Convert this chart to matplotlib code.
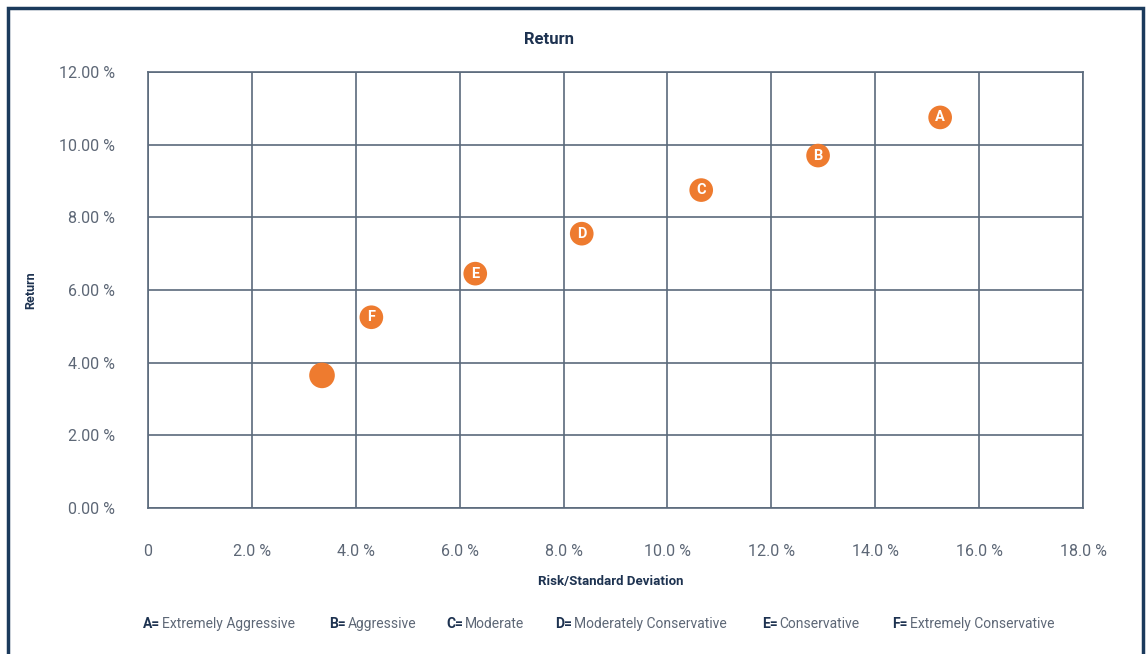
import matplotlib
matplotlib.use("Agg")
import matplotlib.pyplot as plt
from matplotlib.patches import Rectangle

# data
labels = ["A", "B", "C", "D", "E", "F", ""]
risk = [15.25, 12.9, 10.65, 8.35, 6.3, 4.3, 3.35]
ret = [10.75, 9.7, 8.75, 7.55, 6.45, 5.25, 3.65]

x_ticks = [0, 2, 4, 6, 8, 10, 12, 14, 16, 18]
x_ticklabels = ["0", "2.0 %", "4.0 %", "6.0 %", "8.0 %", "10.0 %", "12.0 %", "14.0 %", "16.0 %", "18.0 %"]
y_ticks = [0, 2, 4, 6, 8, 10, 12]
y_ticklabels = ["0.00 %", "2.00 %", "4.00 %", "6.00 %", "8.00 %", "10.00 %", "12.00 %"]

legend_keys = ["A=", "B=", "C=", "D=", "E=", "F="]
legend_names = ["Extremely Aggressive", "Aggressive", "Moderate",
                "Moderately Conservative", "Conservative", "Extremely Conservative"]

plt.rcParams["font.family"] = ["Roboto", "DejaVu Sans"]

NAVY = "#1d3250"
GRAY = "#5d6776"
GRID = "#5b6a7c"
ORANGE = "#ee7b2f"

W, H = 1147, 654
fig = plt.figure(figsize=(W / 100, H / 100), dpi=100)
ax = fig.add_axes([148 / W, 1 - 508 / H, (1083 - 148) / W, (508 - 72) / H])

ax.set_xlim(0, 18)
ax.set_ylim(0, 12)
ax.set_xticks(x_ticks)
ax.set_xticklabels(x_ticklabels)
ax.set_yticks(y_ticks)
ax.set_yticklabels(y_ticklabels)
ax.tick_params(axis="both", length=0, labelsize=11.5, colors=GRAY)
ax.tick_params(axis="x", pad=26)
ax.tick_params(axis="y", pad=24)
ax.grid(True, color=GRID, linewidth=1.2)
for sp in ax.spines.values():
    sp.set_color(GRID)
    sp.set_linewidth(1.2)
ax.set_axisbelow(True)

# points
for lab, x, y in zip(labels, risk, ret):
    if lab:
        ax.scatter(x, y, s=290, color=ORANGE, edgecolor="none", zorder=3)
        ax.text(x, y, lab, color="white", fontsize=10.5, fontweight="bold",
                ha="center", va="center", zorder=4)
    else:
        ax.scatter(x, y, s=340, color=ORANGE, edgecolor="none", zorder=3)

# titles
fig.text(549 / W, 1 - 40 / H, "Return", ha="center", va="center",
         fontsize=12, fontweight="bold", color=NAVY)
fig.text(31 / W, 1 - 290 / H, "Return", ha="center", va="center", rotation=90,
         fontsize=9, fontweight="bold", color=NAVY)
fig.text(611 / W, 1 - 582 / H, "Risk/Standard Deviation", ha="center", va="center",
         fontsize=9.5, fontweight="bold", color=NAVY)

# legend line
fig.canvas.draw()
renderer = fig.canvas.get_renderer()
starts = [143, 329, 446, 555, 762, 892]
for x0, key, name in zip(starts, legend_keys, legend_names):
    t = fig.text(x0 / W, 1 - 624 / H, key, ha="left", va="center",
                 fontsize=10, fontweight="bold", color=NAVY)
    bb = t.get_window_extent(renderer)
    fig.text((bb.x1 + 2) / W, 1 - 624 / H, name, ha="left", va="center",
             fontsize=10, color=GRAY)

# frame around the chart
fig.patches.append(Rectangle((8 / W, -0.05), (1143 - 8) / W, 1 - 8 / H + 0.05,
                             transform=fig.transFigure, fill=False,
                             edgecolor="#1b3a5c", linewidth=2.5))

fig.savefig("out.png", dpi=100)
